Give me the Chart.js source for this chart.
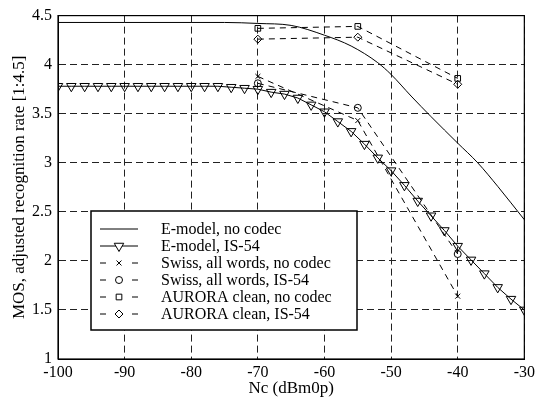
<!DOCTYPE html>
<html>
<head>
<meta charset="utf-8">
<script src="https://cdn.jsdelivr.net/npm/chart.js@4/dist/chart.umd.min.js"></script>
<style>
  html, body { margin: 0; padding: 0; background: #fff; }
  #wrap { width: 539px; height: 403px; }
</style>
</head>
<body>
<div id="wrap"><canvas id="chart1" width="539" height="403"></canvas></div>
<script>
// tick values
const xTicks = [-100, -90, -80, -70, -60, -50, -40, -30];
const yTicks = [1, 1.5, 2, 2.5, 3, 3.5, 4, 4.5];

// E-model, no codec (smooth curve)
const emodelNoCodecX = [-100, -90, -80, -75, -70, -65, -60, -56, -52, -50, -47, -44, -40, -37, -34, -30];
const emodelNoCodec  = [4.43, 4.43, 4.43, 4.43, 4.42, 4.40, 4.30, 4.19, 4.02, 3.90, 3.68, 3.47, 3.20, 3.00, 2.76, 2.42];

// E-model, IS-54 (every 2 dB)
const emodelIs54X = [-100, -98, -96, -94, -92, -90, -88, -86, -84, -82, -80, -78, -76, -74, -72, -70, -68, -66,
                     -64, -62, -60, -58, -56, -54, -52, -50, -48, -46, -44, -42, -40, -38, -36, -34, -32, -30];
const emodelIs54  = [3.78, 3.78, 3.78, 3.78, 3.78, 3.78, 3.78, 3.78, 3.78, 3.78, 3.78, 3.78, 3.78, 3.77, 3.76, 3.75, 3.72, 3.70,
                     3.66, 3.59, 3.52, 3.42, 3.32, 3.19, 3.05, 2.92, 2.77, 2.61, 2.46, 2.31, 2.15, 2.01, 1.87, 1.73, 1.61, 1.50];

// test points
const testNc = [-70, -55, -40];
const swissNoCodec  = [3.88, 3.43, 1.64];
const swissIs54     = [3.81, 3.56, 2.07];
const auroraNoCodec = [4.37, 4.39, 3.86];
const auroraIs54    = [4.26, 4.28, 3.80];

const labels = [
    'E-model, no codec',
    'E-model, IS-54',
    'Swiss, all words, no codec',
    'Swiss, all words, IS-54',
    'AURORA clean, no codec',
    'AURORA clean, IS-54'
];

const FONT = "'Liberation Serif', 'Times New Roman', serif";
const toXY = (xs, ys) => xs.map((x, i) => ({ x: x, y: ys[i] }));

function dashed(label, ys, style, radius, rot) {
    return {
        label: label,
        data: toXY(testNc, ys),
        borderColor: '#000',
        backgroundColor: 'rgba(0,0,0,0)',
        borderWidth: 1,
        borderDash: [6, 5],
        pointStyle: style,
        pointRadius: radius,
        pointRotation: rot || 0,
        pointBorderColor: '#000',
        pointBorderWidth: 1,
        pointBackgroundColor: 'rgba(0,0,0,0)',
        tension: 0
    };
}

const datasets = [
    {
        label: labels[0],
        data: toXY(emodelNoCodecX, emodelNoCodec),
        borderColor: '#000',
        borderWidth: 1,
        pointRadius: 0,
        cubicInterpolationMode: 'monotone',
        isSolid: true
    },
    {
        label: labels[1],
        data: toXY(emodelIs54X, emodelIs54),
        borderColor: '#000',
        borderWidth: 1,
        pointStyle: 'triangle',
        pointRotation: 180,
        pointRadius: 5.5,
        pointBorderColor: '#000',
        pointBorderWidth: 1,
        pointBackgroundColor: 'rgba(0,0,0,0)',
        tension: 0,
        isSolid: true
    },
    dashed(labels[2], swissNoCodec, 'crossRot', 3.5),
    dashed(labels[3], swissIs54, 'circle', 3.5),
    dashed(labels[4], auroraNoCodec, 'rect', 4),
    dashed(labels[5], auroraIs54, 'rectRot', 4)
];

// frame round the plot area + legend box inside it
const framePlugin = {
    id: 'frameLegend',
    afterDatasetsDraw(chart) {
        const ctx = chart.ctx;
        const a = chart.chartArea;
        ctx.save();
        ctx.strokeStyle = '#000';
        ctx.lineWidth = 1.2;
        ctx.setLineDash([]);
        ctx.strokeRect(a.left, a.top, a.right - a.left, a.bottom - a.top);

        // legend
        const bx = 91, by = 211, bw = 266, bh = 119;
        ctx.fillStyle = '#fff';
        ctx.fillRect(bx, by, bw, bh);
        ctx.lineWidth = 1.5;
        ctx.strokeRect(bx, by, bw, bh);
        ctx.font = '16px ' + FONT;
        ctx.textBaseline = 'middle';
        ctx.textAlign = 'left';
        chart.data.datasets.forEach((ds, i) => {
            const y = 229 + i * 17;
            const x0 = 100, x1 = 138, xm = 119;
            ctx.strokeStyle = '#000';
            ctx.lineWidth = 1;
            ctx.beginPath();
            if (ds.isSolid) {
                ctx.moveTo(x0, y); ctx.lineTo(x1, y);
            } else {
                ctx.moveTo(x0, y); ctx.lineTo(x0 + 6, y);
                ctx.moveTo(x1 - 6, y); ctx.lineTo(x1, y);
            }
            ctx.stroke();
            if (ds.pointRadius > 0) {
                ctx.fillStyle = '#fff';
                Chart.helpers.drawPoint(ctx, {
                    pointStyle: ds.pointStyle,
                    rotation: ds.pointRotation || 0,
                    radius: ds.pointRadius,
                    borderWidth: 1
                }, xm, y);
            }
            ctx.fillStyle = '#000';
            ctx.fillText(ds.label, 161, y + 1);
        });
        ctx.restore();
    }
};

const ctx1 = document.getElementById('chart1').getContext('2d');
const myChart1 = new Chart(ctx1, {
    type: 'line',
    data: { datasets: datasets },
    plugins: [framePlugin],
    options: {
        responsive: false,
        animation: false,
        layout: { padding: { left: 0, top: 14, right: 13, bottom: 0 } },
        plugins: {
            legend: { display: false },
            tooltip: { enabled: false }
        },
        scales: {
            x: {
                type: 'linear',
                min: -100,
                max: -30,
                afterBuildTicks: s => { s.ticks = xTicks.map(v => ({ value: v })); },
                afterFit: s => { s.height = 44; },
                grid: { color: '#222', lineWidth: 1, drawTicks: false },
                border: { display: true, color: '#000', width: 1, dash: [7, 4] },
                ticks: {
                    color: '#000',
                    padding: 4,
                    font: { family: FONT, size: 16 },
                    maxRotation: 0,
                    callback: v => String(v)
                },
                title: {
                    display: true,
                    text: 'Nc (dBm0p)',
                    color: '#000',
                    padding: { top: 0, bottom: 4 },
                    font: { family: FONT, size: 17 }
                }
            },
            y: {
                type: 'linear',
                min: 1,
                max: 4.5,
                afterBuildTicks: s => { s.ticks = yTicks.map(v => ({ value: v })); },
                afterFit: s => { s.width = 58; },
                grid: { color: '#222', lineWidth: 1, drawTicks: false },
                border: { display: true, color: '#000', width: 1, dash: [7, 4] },
                ticks: {
                    color: '#000',
                    padding: 6,
                    font: { family: FONT, size: 16 },
                    callback: v => String(v)
                },
                title: {
                    display: true,
                    text: 'MOS, adjusted recognition rate [1:4.5]',
                    color: '#000',
                    padding: { top: 9, bottom: 0 },
                    font: { family: FONT, size: 17 }
                }
            }
        }
    }
});
</script>
</body>
</html>
